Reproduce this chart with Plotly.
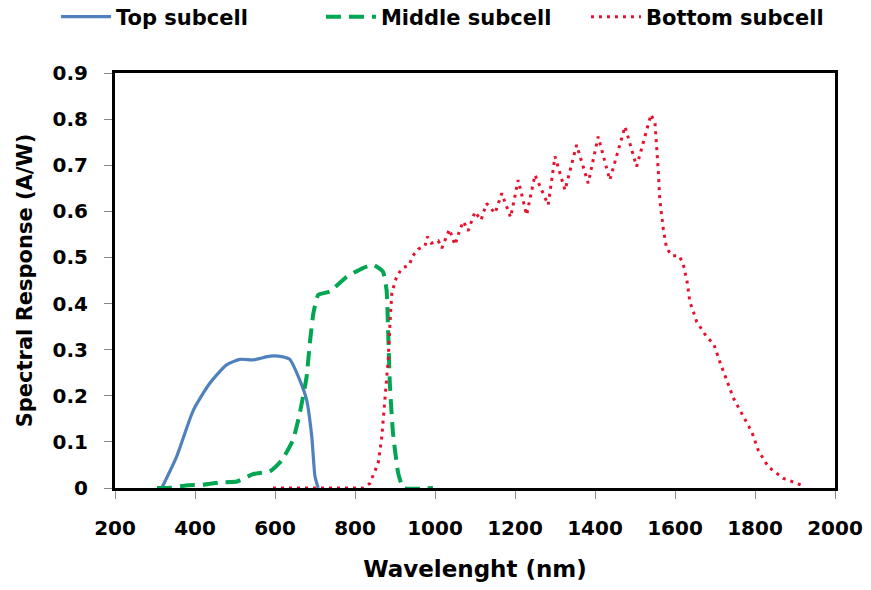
import plotly.graph_objects as go

# Spectral response of the three subcells (wavelength in nm, response in A/W)
top_wl = [317, 354, 396, 437, 479, 512, 546, 588, 617, 637, 662, 679, 692, 700, 708]
top_sr = [0.0, 0.068, 0.169, 0.227, 0.267, 0.279, 0.278, 0.286, 0.285, 0.279, 0.234, 0.191, 0.111, 0.025, 0.0]

mid_wl = [305, 330, 383, 420, 462, 505, 545, 587, 617, 645, 662, 679, 687, 696, 708, 737,
          779, 820, 846, 870, 879, 883, 887, 895, 908, 921, 995]
mid_sr = [0.0, 0.0, 0.006, 0.007, 0.012, 0.014, 0.030, 0.036, 0.060, 0.104, 0.162, 0.241,
          0.314, 0.379, 0.419, 0.426, 0.458, 0.477, 0.484, 0.469, 0.429, 0.336, 0.228,
          0.119, 0.032, 0.0, 0.0]

bot_wl = [595, 700, 820, 837, 858, 867, 875, 883, 887, 892, 904, 917, 936, 944, 958, 975,
          981, 991, 1008, 1017, 1036, 1050, 1062, 1071, 1083, 1100, 1115, 1129, 1150, 1167,
          1189, 1208, 1229, 1250, 1283, 1300, 1325, 1354, 1383, 1408, 1437, 1475, 1504,
          1540, 1550, 1554, 1558, 1562, 1571, 1579, 1592, 1611, 1621, 1631, 1637, 1646,
          1654, 1679, 1697, 1712, 1729, 1746, 1769, 1792, 1808, 1833, 1871, 1917]
bot_sr = [0.0, 0.0, 0.0, 0.010, 0.054, 0.111, 0.191, 0.278, 0.350, 0.423, 0.458, 0.476,
          0.484, 0.503, 0.518, 0.525, 0.545, 0.531, 0.536, 0.520, 0.561, 0.527, 0.560,
          0.578, 0.558, 0.599, 0.581, 0.617, 0.596, 0.639, 0.587, 0.668, 0.592, 0.679,
          0.614, 0.719, 0.646, 0.744, 0.661, 0.762, 0.668, 0.784, 0.697, 0.810, 0.791,
          0.748, 0.690, 0.625, 0.560, 0.520, 0.504, 0.503, 0.484, 0.444, 0.404, 0.382,
          0.361, 0.328, 0.312, 0.274, 0.234, 0.195, 0.158, 0.122, 0.082, 0.046, 0.021,
          0.006]

x_ticks = [200, 400, 600, 800, 1000, 1200, 1400, 1600, 1800, 2000]
x_labels = [str(v) for v in x_ticks]
y_ticks = [0, 0.1, 0.2, 0.3, 0.4, 0.5, 0.6, 0.7, 0.8, 0.9]
y_labels = ["0", "0.1", "0.2", "0.3", "0.4", "0.5", "0.6", "0.7", "0.8", "0.9"]

FONT = "DejaVu Sans"

fig = go.Figure()
fig.add_trace(go.Scatter(
    x=top_wl, y=top_sr, mode="lines", name="Top subcell",
    line=dict(color="#4F81BD", width=3.2, shape="spline", smoothing=0.6),
))
fig.add_trace(go.Scatter(
    x=mid_wl, y=mid_sr, mode="lines", name="Middle subcell",
    line=dict(color="#00A651", width=4, dash="15px,8px", shape="spline", smoothing=0.4),
))
fig.add_trace(go.Scatter(
    x=bot_wl, y=bot_sr, mode="lines", name="Bottom subcell",
    line=dict(color="#E8112D", width=3, dash="3px,5px"),
))

axis_common = dict(
    showline=True, linecolor="black", linewidth=3, mirror=True,
    ticks="outside", ticklen=8, tickcolor="#888888", tickwidth=1,
    showgrid=False, zeroline=False,
    tickfont=dict(family=FONT, size=20, color="black", weight="bold"),
)

fig.update_xaxes(
    range=[200, 2000], tickvals=x_ticks, ticktext=x_labels,
    ticklabelstandoff=12,
    title=dict(text="Wavelenght (nm)", standoff=22,
               font=dict(family=FONT, size=23, color="black", weight="bold")),
    **axis_common,
)
fig.update_yaxes(
    range=[0, 0.9], tickvals=y_ticks, ticktext=y_labels,
    ticklabelstandoff=12,
    title=dict(text="Spectral Response (A/W)", standoff=15,
               font=dict(family=FONT, size=21, color="black", weight="bold")),
    **axis_common,
)

fig.update_layout(
    width=871, height=590,
    margin=dict(l=115, r=36, t=73, b=102, autoexpand=False),
    paper_bgcolor="white", plot_bgcolor="white",
    showlegend=True,
    legend=dict(
        orientation="h", x=-0.082, xanchor="left",
        y=1.135, yanchor="middle",
        font=dict(family=FONT, size=21, color="black", weight="bold"),
        bgcolor="rgba(0,0,0,0)", itemwidth=50,
        entrywidth=200, entrywidthmode="pixels",
    ),
)

fig.write_html("out.html")
